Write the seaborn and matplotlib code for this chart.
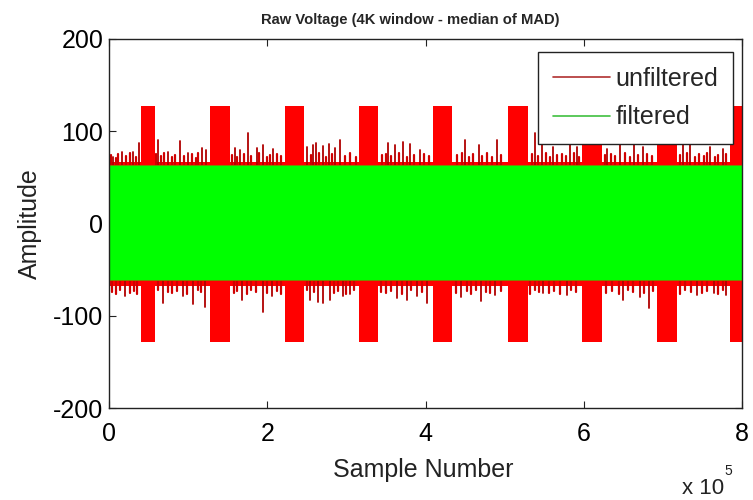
import numpy as np
import pandas as pd
import matplotlib
matplotlib.use("Agg")
import matplotlib.pyplot as plt
from matplotlib.lines import Line2D
import seaborn as sns

# ---------------- data ----------------
title = "Raw Voltage (4K window - median of MAD)"
series_names = ["unfiltered", "filtered"]
x_ticks = [0, 200000, 400000, 600000, 800000]
x_tick_labels = ["0", "2", "4", "6", "8"]
y_ticks = [-200, -100, 0, 100, 200]
n_samples = 800000

# bursts in the unfiltered signal (sample ranges, clipped at int8 limits)
burst_start = [41000, 128000, 222000, 316000, 409000, 504000, 598000, 692000, 785000]
burst_end = [58000, 153000, 246000, 340000, 434000, 529000, 623000, 718000, 800000]
burst_max = 127
burst_min = -128

# envelope of the dense noise
fringe_max = 67
fringe_min = -68
filtered_max = 63
filtered_min = -61

# tallest noise excursions of the unfiltered signal
up_x = [5500, 16000, 30800, 38400, 62400, 75000, 89800, 100300, 117100, 122600,
        159300, 165600, 176200, 186700, 195100, 207800, 249900, 258400, 262000,
        270000, 278000, 286000, 292000, 353000, 361000, 372000, 380000, 393000,
        450000, 467000, 490000, 538600, 547000, 561000, 583000, 591000, 629000,
        646000, 663000, 675000, 726000, 734000, 760000, 776000]
up_h = [72, 78, 78, 87, 90, 78, 89, 76, 82, 80,
        82, 80, 98, 82, 85, 81, 83, 85, 87,
        84, 86, 82, 90, 87, 85, 88, 86, 80,
        90, 85, 90, 98, 87, 83, 85, 83, 81,
        85, 87, 83, 87, 85, 83, 81]
low_x = [20200, 68700, 94000, 106600, 121400, 167700, 195100, 205600, 254100,
         264600, 270900, 279400, 296200, 304700, 363700, 376300, 389000, 401600,
         445000, 470000, 488000, 549000, 578600, 650000, 671000, 682000, 743000,
         764000, 780000]
low_h = [-79, -86, -79, -87, -90, -83, -96, -79, -83,
         -85, -86, -83, -79, -76, -81, -83, -79, -86,
         -80, -84, -78, -75, -77, -83, -80, -92, -77,
         -75, -78]

# smaller ragged excursions along the noise envelope
small_up_x = [2000, 9000, 12000, 22000, 26000, 34000, 60000, 66000, 70000, 80000,
              84000, 95000, 105000, 110000, 113000, 156000, 162000, 170000, 180000,
              190000, 200000, 204000, 212000, 218000, 255000, 266000, 274000, 282000,
              298000, 305000, 312000, 345000, 350000, 357000, 366000, 376000, 385000,
              398000, 404000, 440000, 446000, 455000, 460000, 472000, 478000, 484000,
              496000, 534000, 542000, 552000, 557000, 566000, 572000, 578000, 588000,
              594000, 627000, 634000, 640000, 652000, 658000, 668000, 680000, 686000,
              722000, 730000, 740000, 746000, 752000, 756000, 766000, 770000, 780000]
small_up_h = [74, 71, 75, 73, 76, 72, 75, 73, 76, 72,
              74, 73, 75, 71, 76, 74, 72, 75, 73,
              76, 72, 74, 75, 73, 74, 76, 72, 75,
              73, 76, 72, 74, 75, 73, 76, 72, 74,
              75, 73, 74, 76, 72, 75, 73, 76, 72,
              74, 75, 73, 76, 72, 74, 75, 73, 76,
              72, 74, 75, 73, 76, 72, 74, 75, 73,
              74, 76, 72, 75, 73, 76, 72, 74, 75]
small_low_x = [4000, 9000, 14000, 26000, 31000, 36000, 62000, 74000, 80000, 86000,
               99000, 112000, 116000, 158000, 162000, 174000, 180000, 186000, 200000,
               212000, 217000, 250000, 259000, 284000, 290000, 300000, 310000, 344000,
               350000, 356000, 370000, 382000, 395000, 438000, 452000, 458000, 464000,
               476000, 482000, 496000, 532000, 538000, 544000, 556000, 562000, 570000,
               584000, 590000, 628000, 636000, 644000, 656000, 662000, 676000, 688000,
               722000, 728000, 736000, 750000, 756000, 770000, 776000]
small_low_h = [-74, -76, -72, -75, -73, -76, -72, -74, -75, -73,
               -76, -72, -74, -75, -73, -76, -72, -74, -75,
               -73, -76, -72, -74, -75, -73, -76, -72, -74,
               -75, -73, -76, -72, -74, -75, -73, -76, -72,
               -74, -75, -73, -76, -72, -74, -75, -73, -76,
               -72, -74, -75, -73, -76, -72, -74, -75, -73,
               -76, -72, -74, -75, -73, -76, -72]

# ---------------- style ----------------
sns.set_style("ticks")
plt.rcParams["font.family"] = ["Liberation Sans", "DejaVu Sans"]
plt.rcParams["axes.unicode_minus"] = False

RED = "#ff0000"
GREEN = "#00ff00"

fig = plt.figure(figsize=(7.53, 5.0), dpi=100)
fig.patch.set_facecolor("white")
ax = fig.add_axes([109 / 753, 92 / 500, 633 / 753, 369 / 500])
ax.set_facecolor("white")

# unfiltered: noise fringe
ax.fill_between([0, n_samples], fringe_min, fringe_max, color=RED, lw=0, zorder=2)


def spike_frame(xs, hs, base, tag):
    rows = []
    for i, (x, h) in enumerate(zip(xs, hs)):
        rows.append({"x": x, "y": base, "id": f"{tag}{i}"})
        rows.append({"x": x, "y": h, "id": f"{tag}{i}"})
    return pd.DataFrame(rows)


small = pd.concat([spike_frame(small_up_x, small_up_h, 60, "su"),
                   spike_frame(small_low_x, small_low_h, -58, "sl")])
big = pd.concat([spike_frame(up_x, up_h, 60, "u"),
                 spike_frame(low_x, low_h, -58, "l")])
sns.lineplot(data=small, x="x", y="y", units="id", estimator=None, sort=False,
             color="#d00000", lw=1.6, ax=ax, legend=False, zorder=2)
sns.lineplot(data=big, x="x", y="y", units="id", estimator=None, sort=False,
             color="#b00000", lw=1.3, ax=ax, legend=False, zorder=2)

# unfiltered: bursts
widths = [e - s for s, e in zip(burst_start, burst_end)]
ax.bar(burst_start, burst_max - burst_min, width=widths, bottom=burst_min,
       align="edge", color=RED, lw=0, zorder=2)

# filtered
ax.fill_between([0, n_samples], filtered_min, filtered_max, color=GREEN,
                edgecolor="#7a8a00", lw=0.6, zorder=3)

ax.set_xlim(0, n_samples)
ax.set_ylim(-200, 200)
ax.set_xticks(x_ticks)
ax.set_xticklabels(x_tick_labels)
ax.set_yticks(y_ticks)
ax.set_xlabel("")
ax.set_ylabel("")
ax.tick_params(direction="in", length=5, width=0.8, top=True, right=True,
               labelsize=18, colors="#222222", labelcolor="black")
ax.tick_params(axis="x", pad=10)
ax.tick_params(axis="y", pad=4)
for sp in ax.spines.values():
    sp.set_visible(True)
    sp.set_color("#222222")
    sp.set_linewidth(1.0)
    sp.set_zorder(5)

handles = [Line2D([], [], color="#b03030", lw=1.2),
           Line2D([], [], color="#40c040", lw=1.2)]
leg = ax.legend(handles, series_names, loc="upper right",
                bbox_to_anchor=(0.986, 0.965), fontsize=18, frameon=True,
                fancybox=False, framealpha=1, edgecolor="#222222",
                handlelength=2.3, handletextpad=0.2, labelspacing=0.58,
                borderpad=0.6, borderaxespad=0)
leg.get_frame().set_linewidth(1.0)
leg.set_zorder(10)

fig.text(410 / 753, 1 - 20 / 500, title, ha="center", va="center",
         fontsize=10.6, fontweight="bold")
fig.text(423 / 753, 1 - 470 / 500, "Sample Number", ha="center", va="center",
         fontsize=18, color="#222222")
fig.text(30 / 753, 1 - 224 / 500, "Amplitude", ha="center", va="center",
         rotation=90, fontsize=18, color="#222222")
fig.text(682 / 753, 1 - 488 / 500, "x 10", ha="left", va="center",
         fontsize=16, color="#222222")
fig.text(724 / 753, 1 - 471 / 500, "5", ha="left", va="center",
         fontsize=10, color="#222222")

fig.savefig("out.png", dpi=100)
